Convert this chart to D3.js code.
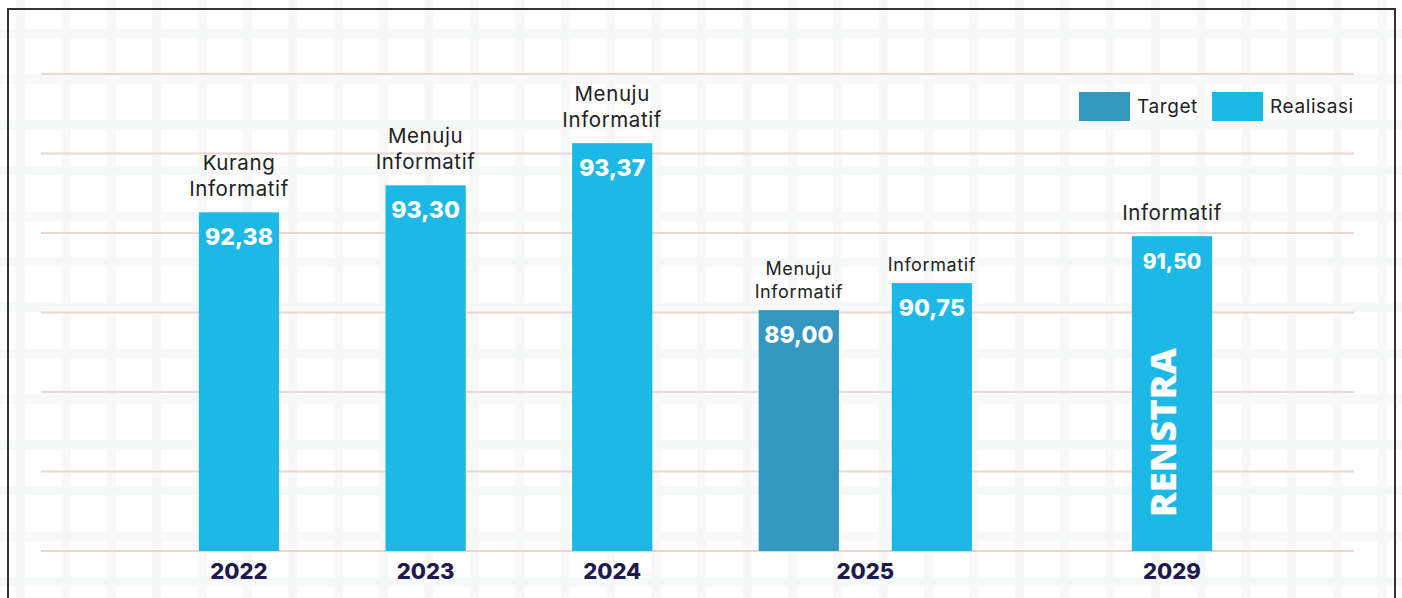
<!DOCTYPE html>
<html>
<head>
<meta charset="utf-8">
<script src="https://cdn.jsdelivr.net/npm/d3@7"></script>
<style>
  html, body { margin: 0; padding: 0; background: #fff; }
  svg { display: block; font-family: "Inter", "Open Sans", sans-serif; }
</style>
</head>
<body>
<svg id="chart" width="1402" height="598"></svg>
<script>
// data
var years = ["2022", "2023", "2024", "2025", "2029"];
var seriesNames = ["Target", "Realisasi"];
var seriesColors = ["#3397c2", "#1db9e6"];

var barYear = ["2022", "2023", "2024", "2025", "2025", "2029"];
var barSeries = ["Realisasi", "Realisasi", "Realisasi", "Target", "Realisasi", "Realisasi"];
var barValue = [92.38, 93.30, 93.37, 89.00, 90.75, 91.50];
// bar height as read on the (unlabelled) guide lines 0..6
var barLevel = [4.26, 4.60, 5.13, 3.03, 3.37, 3.96];
var barCategory = [["Kurang", "Informatif"], ["Menuju", "Informatif"], ["Menuju", "Informatif"],
                   ["Menuju", "Informatif"], ["Informatif"], ["Informatif"]];
var barNote = ["", "", "", "", "", "RENSTRA"];
var guideLevels = [0, 1, 2, 3, 4, 5, 6];

var W = 1402, H = 598;
var svg = d3.select("#chart");

// background tile pattern
var bg = svg.append("g");
bg.append("rect").attr("width", W).attr("height", H).attr("fill", "#ffffff");
d3.range(16, W, 45.4).forEach(function(x) {
  bg.append("rect").attr("x", x).attr("y", 0).attr("width", 9).attr("height", H).attr("fill", "#f7f8f8");
});
d3.range(29 - 45.7, H, 45.7).forEach(function(y) {
  bg.append("rect").attr("x", 0).attr("y", y).attr("width", W).attr("height", 9).attr("fill", "#f7f8f8");
});

// frame
svg.append("path")
  .attr("d", "M8," + (H + 2) + "V9H1395V" + (H + 2))
  .attr("fill", "none")
  .attr("stroke", "#333")
  .attr("stroke-width", 2);

// scales
var slots = ["2022", "2023", "2024", "2025", "gap", "2029"];
var x = d3.scalePoint().domain(slots).range([239, 1172]);
var inner = d3.scalePoint().domain(seriesNames).range([0, x.step() * 0.713]);
var barW = x.step() * 0.43;
var y = d3.scaleLinear().domain([0, 6]).range([551, 74]);
var color = d3.scaleOrdinal().domain(seriesNames).range(seriesColors);

function countInYear(yr) { return barYear.filter(function(v) { return v === yr; }).length; }
function cx(i) {
  var yr = barYear[i];
  return x(yr) + (countInYear(yr) > 1 ? inner(barSeries[i]) : 0);
}

// guide lines
svg.append("g").selectAll("line")
  .data(guideLevels)
  .enter()
  .append("line")
  .attr("x1", 41).attr("x2", 1354)
  .attr("y1", function(d) { return y(d); })
  .attr("y2", function(d) { return y(d); })
  .attr("stroke", "#ead6d2")
  .attr("stroke-width", 2);

var idx = d3.range(barValue.length);
var fmt = function(v) { return d3.format(".2f")(v).replace(".", ","); };

var bars = svg.append("g");
bars.selectAll("rect")
  .data(idx)
  .enter()
  .append("rect")
  .attr("x", function(i) { return cx(i) - barW / 2; })
  .attr("y", function(i) { return y(barLevel[i]); })
  .attr("width", barW)
  .attr("height", function(i) { return y(0) - y(barLevel[i]); })
  .attr("fill", function(i) { return color(barSeries[i]); });

// value labels
bars.selectAll(".val")
  .data(idx)
  .enter()
  .append("text")
  .attr("class", "val")
  .attr("x", function(i) { return cx(i); })
  .attr("y", function(i) { return y(barLevel[i]) + 33; })
  .attr("text-anchor", "middle")
  .attr("fill", "#fff")
  .attr("font-weight", 800)
  .attr("font-size", function(i) { return barYear[i] === "2029" ? 21 : 23; })
  .text(function(i) { return fmt(barValue[i]); });

// category labels above bars
idx.forEach(function(i) {
  var small = barYear[i] === "2025";
  var fs = small ? 18 : 20.5;
  var lines = barCategory[i];
  var base = y(barLevel[i]) - (small ? 12 : 16);
  var t = bars.append("text")
    .attr("text-anchor", "middle")
    .attr("fill", "#222")
    .attr("font-size", fs)
    .attr("letter-spacing", 0.6);
  lines.forEach(function(s, k) {
    t.append("tspan")
      .attr("x", cx(i))
      .attr("y", base - (lines.length - 1 - k) * (small ? 23 : 26))
      .text(s);
  });
});

// rotated note
idx.filter(function(i) { return barNote[i]; }).forEach(function(i) {
  bars.append("text")
    .attr("transform", "translate(" + (cx(i) + 4) + "," + (y(0) - 34) + ") rotate(-90)")
    .attr("fill", "#fff")
    .attr("font-family", "Open Sans, sans-serif")
    .attr("font-weight", 800)
    .attr("font-size", 35)
    .attr("textLength", 169)
    .attr("lengthAdjust", "spacingAndGlyphs")
    .text(barNote[i]);
});

// year labels
svg.append("g").selectAll("text")
  .data(years)
  .enter()
  .append("text")
  .attr("x", function(yr) {
    return d3.mean(idx.filter(function(i) { return barYear[i] === yr; }), cx);
  })
  .attr("y", 579)
  .attr("text-anchor", "middle")
  .attr("fill", "#1e1a4b")
  .attr("font-weight", 800)
  .attr("font-size", 22)
  .text(function(d) { return d; });

// legend
var legend = svg.append("g").attr("transform", "translate(1079,92)");
var legX = d3.scaleOrdinal().domain(seriesNames).range([0, 133]);
var item = legend.selectAll("g")
  .data(seriesNames)
  .enter()
  .append("g")
  .attr("transform", function(d) { return "translate(" + legX(d) + ",0)"; });
item.append("rect")
  .attr("width", 51).attr("height", 29)
  .attr("fill", function(d) { return color(d); });
item.append("text")
  .attr("x", 58).attr("y", 21)
  .attr("fill", "#222")
  .attr("font-size", 19)
  .attr("letter-spacing", 0.6)
  .text(function(d) { return d; });
</script>
</body>
</html>
